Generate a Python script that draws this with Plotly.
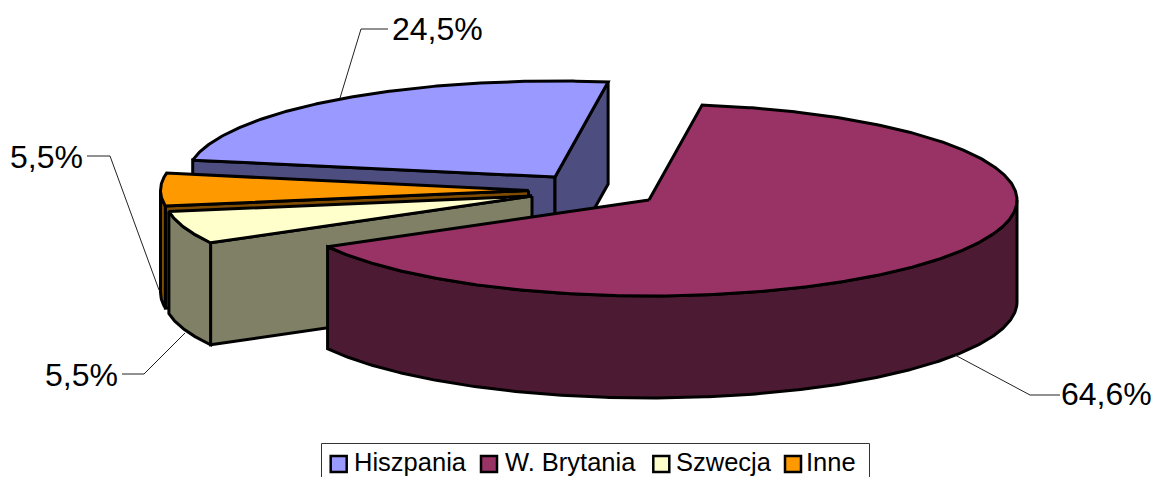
import numpy as np
import plotly.graph_objects as go

categories = ["Hiszpania", "W. Brytania", "Szwecja", "Inne"]
shares = [24.5, 64.6, 5.5, 5.5]

top_colors = ["#9999FF", "#993366", "#FFFFCC", "#FF9900"]
side_colors = ["#4D4D80", "#4D1A33", "#808066", "#804D00"]

W, H = 1154, 477
RX, RY, DEPTH = 368, 96, 102
START = -79.9
# exploded slice centres, in page pixels
centres = {"Hiszpania": (555, 177), "W. Brytania": (649, 200), "Szwecja": (532, 196), "Inne": (528.5, 190.5)}


def rim(c, a, b, drop=0):
    t = np.radians(np.linspace(a, b, max(2, int(abs(b - a) * 2) + 1)))
    return c[0] + RX * np.sin(t), c[1] - RY * np.cos(t) + drop


def poly(fig, x, y, color):
    fig.add_trace(go.Scatter(x=list(x) + [x[0]], y=list(y) + [y[0]], mode="lines", fill="toself",
                             fillcolor=color, line=dict(color="black", width=3), hoverinfo="skip",
                             showlegend=False))


def cut_wall(fig, c, a, color):
    x, y = rim(c, a, a)
    ex, ey = x[0], y[0]
    poly(fig, [c[0], ex, ex, c[0]], [c[1], ey, ey + DEPTH, c[1] + DEPTH], color)


def outer_wall(fig, c, a, b, color):
    x, y = rim(c, a, b)
    x2, y2 = rim(c, b, a, DEPTH)
    poly(fig, np.r_[x, x2], np.r_[y, y2], color)


def top(fig, c, a, b, color):
    x, y = rim(c, a, b)
    poly(fig, np.r_[c[0], x], np.r_[c[1], y], color)


angles = {}
cur = START
for name, v in zip(categories, shares):
    angles[name] = (cur, cur + v / 100 * 360)
    cur += v / 100 * 360

fig = go.Figure()
top_c = dict(zip(categories, top_colors))
side_c = dict(zip(categories, side_colors))

# back to front
name = "Hiszpania"
a, b = angles[name]
cut_wall(fig, centres[name], a, side_c[name])
cut_wall(fig, centres[name], b, side_c[name])
top(fig, centres[name], a, b, top_c[name])

name = "Inne"
a, b = angles[name]
cut_wall(fig, centres[name], a, side_c[name])
outer_wall(fig, centres[name], a, 270, side_c[name])
top(fig, centres[name], a, b, top_c[name])

name = "Szwecja"
a, b = angles[name]
cut_wall(fig, centres[name], a, side_c[name])
outer_wall(fig, centres[name], a, b, side_c[name])
top(fig, centres[name], a, b, top_c[name])

name = "W. Brytania"
a, b = angles[name]
outer_wall(fig, centres[name], 90, b, side_c[name])
top(fig, centres[name], a, b, top_c[name])

# leader lines
leaders = [
    ([388, 361, 340], [29, 29, 98]),
    ([87, 110, 159], [156, 156, 290]),
    ([122, 144, 185], [374, 374, 333]),
    ([1060, 1030, 955], [395, 395, 355]),
]
for lx, ly in leaders:
    fig.add_trace(go.Scatter(x=lx, y=ly, mode="lines", line=dict(color="#222222", width=1),
                             hoverinfo="skip", showlegend=False))

label_pos = [(390, 29, "left"), (1059, 394, "left"), (120, 375, "right"), (85, 157, "right")]
for v, (x, y, anchor) in zip(shares, label_pos):
    fig.add_annotation(x=x, y=y, text=f"{v:.1f}%".replace(".", ","), showarrow=False, xanchor=anchor,
                       yanchor="middle", font=dict(family="Liberation Sans", size=32, color="black"))

# legend
swatch_x = [338.7, 489, 661.3, 793]
text_x = [353, 503.5, 675, 805]
legend_y = 464
fig.add_shape(type="rect", x0=321.5, x1=869.5, y0=443.5, y1=500, line=dict(color="#333333", width=1),
              fillcolor="white", layer="below")
fig.add_trace(go.Scatter(x=swatch_x, y=[legend_y] * 4, mode="markers",
                         marker=dict(symbol="square", size=16, color=top_colors, line=dict(color="black", width=2.5)),
                         hoverinfo="skip", showlegend=False))
for name, x in zip(categories, text_x):
    fig.add_annotation(x=x, y=477, text=name, showarrow=False, xanchor="left", yanchor="bottom",
                       borderpad=0, font=dict(family="Liberation Sans", size=25.5, color="black"))

fig.update_xaxes(range=[0, W], visible=False, fixedrange=True)
fig.update_yaxes(range=[H, 0], visible=False, fixedrange=True)
fig.update_layout(width=W, height=H, margin=dict(l=0, r=0, t=0, b=0), paper_bgcolor="white",
                  plot_bgcolor="white", showlegend=False)
fig.write_html("out.html", config={"displayModeBar": False},
               post_script="document.body.style.margin='0';document.body.style.overflow='hidden';")
